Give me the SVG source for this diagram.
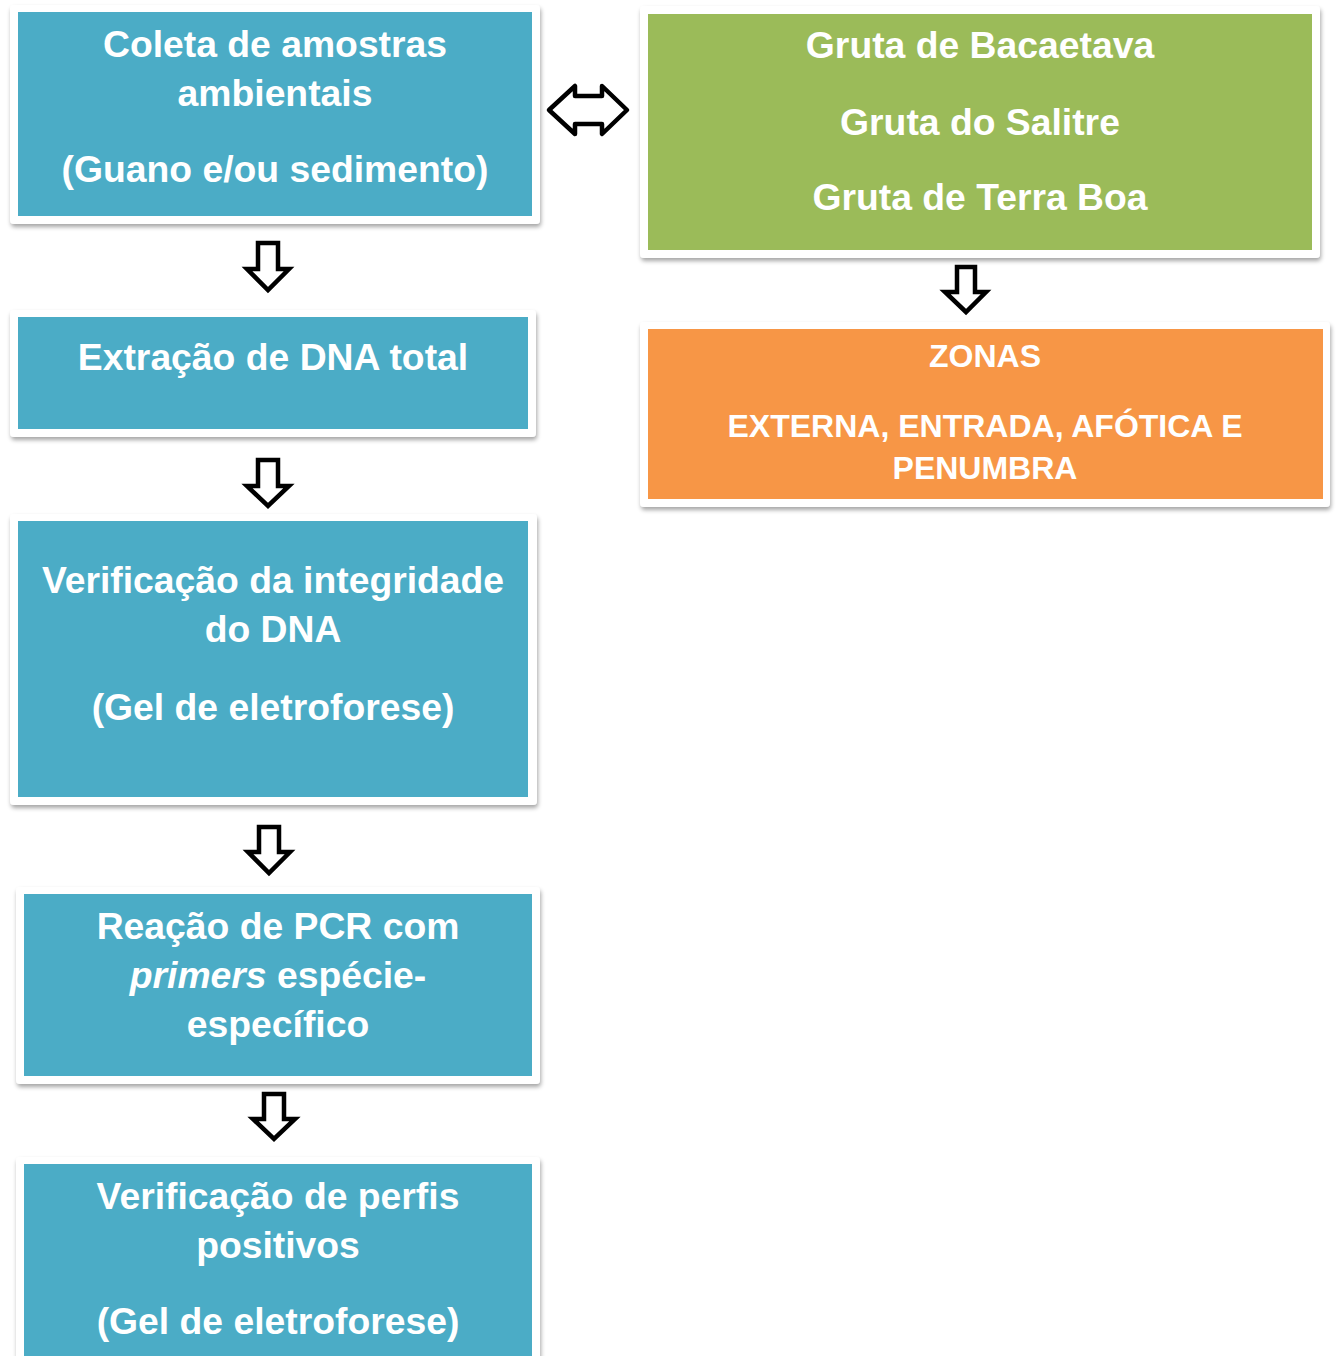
<svg xmlns="http://www.w3.org/2000/svg" width="1336" height="1356" viewBox="0 0 1336 1356">
<defs>
<filter id="sh" x="-5%" y="-5%" width="110%" height="115%">
<feDropShadow dx="1" dy="3" stdDeviation="2" flood-color="#000" flood-opacity="0.35"/>
</filter>
</defs>
<style>
.frame{fill:#fff;filter:url(#sh)}
.blue{fill:#4BACC6}
.green{fill:#9BBB59}
.orange{fill:#F79646}
text{font-family:"Liberation Sans",Arial,sans-serif;font-weight:bold;fill:#fff;text-anchor:middle;font-size:37.3px}
.sm{font-size:32px}
.arr{fill:#fff;stroke:#000;stroke-width:4.5;stroke-linejoin:miter}
.darr{fill:#fff;stroke:#000;stroke-width:4.5;stroke-linejoin:round}
</style>
<rect width="1336" height="1356" fill="#fff"/>

<g id="n1">
<rect class="frame" x="10" y="5" width="530" height="219" rx="4"/>
<rect class="blue" x="18" y="12" width="514" height="204"/>
<text x="275" y="57">Coleta de amostras</text>
<text x="275" y="106">ambientais</text>
<text x="275" y="182">(Guano e/ou sedimento)</text>
</g>

<g id="n2">
<rect class="frame" x="10" y="310" width="526" height="127" rx="4"/>
<rect class="blue" x="18" y="317" width="510" height="112"/>
<text x="273" y="370">Extração de DNA total</text>
</g>

<g id="n3">
<rect class="frame" x="10" y="514" width="527" height="291" rx="4"/>
<rect class="blue" x="18" y="521" width="510" height="276"/>
<text x="273" y="593">Verificação da integridade</text>
<text x="273" y="642">do DNA</text>
<text x="273" y="720">(Gel de eletroforese)</text>
</g>

<g id="n4">
<rect class="frame" x="16" y="887" width="524" height="197" rx="4"/>
<rect class="blue" x="24" y="894" width="508" height="182"/>
<text x="278" y="939">Reação de PCR com</text>
<text x="278" y="988"><tspan font-style="italic">primers</tspan> espécie-</text>
<text x="278" y="1037">específico</text>
</g>

<g id="n5">
<rect class="frame" x="16" y="1157" width="524" height="210" rx="4"/>
<rect class="blue" x="24" y="1164" width="508" height="200"/>
<text x="278" y="1209">Verificação de perfis</text>
<text x="278" y="1258">positivos</text>
<text x="278" y="1334">(Gel de eletroforese)</text>
</g>

<g id="n6">
<rect class="frame" x="640" y="6" width="680" height="252" rx="4"/>
<rect class="green" x="648" y="14" width="664" height="236"/>
<text x="980" y="58">Gruta de Bacaetava</text>
<text x="980" y="135">Gruta do Salitre</text>
<text x="980" y="210">Gruta de Terra Boa</text>
</g>

<g id="n7">
<rect class="frame" x="640" y="322" width="690" height="185" rx="4"/>
<rect class="orange" x="648" y="329" width="675" height="170"/>
<text class="sm" x="985" y="367">ZONAS</text>
<text class="sm" x="985" y="437">EXTERNA, ENTRADA, AFÓTICA E</text>
<text class="sm" x="985" y="479">PENUMBRA</text>
</g>

<g id="connectors">
<polygon class="darr" points="549,110 575,86 575,96 602,96 602,86 627,110 602,134 602,124 575,124 575,134"/>
<polygon class="arr" points="258,243 278,243 278,269 289,269 268,290 247,269 258,269"/>
<polygon class="arr" points="258,460 278,460 278,486 289,486 268,506 247,486 258,486"/>
<polygon class="arr" points="259,827 279,827 279,852 290,852 269,873 248,852 259,852"/>
<polygon class="arr" points="264,1094 284,1094 284,1119 295,1119 274,1139 253,1119 264,1119"/>
<polygon class="arr" points="957,267 975,267 975,292 986,292 966,312 945,292 957,292"/>
</g>
</svg>
